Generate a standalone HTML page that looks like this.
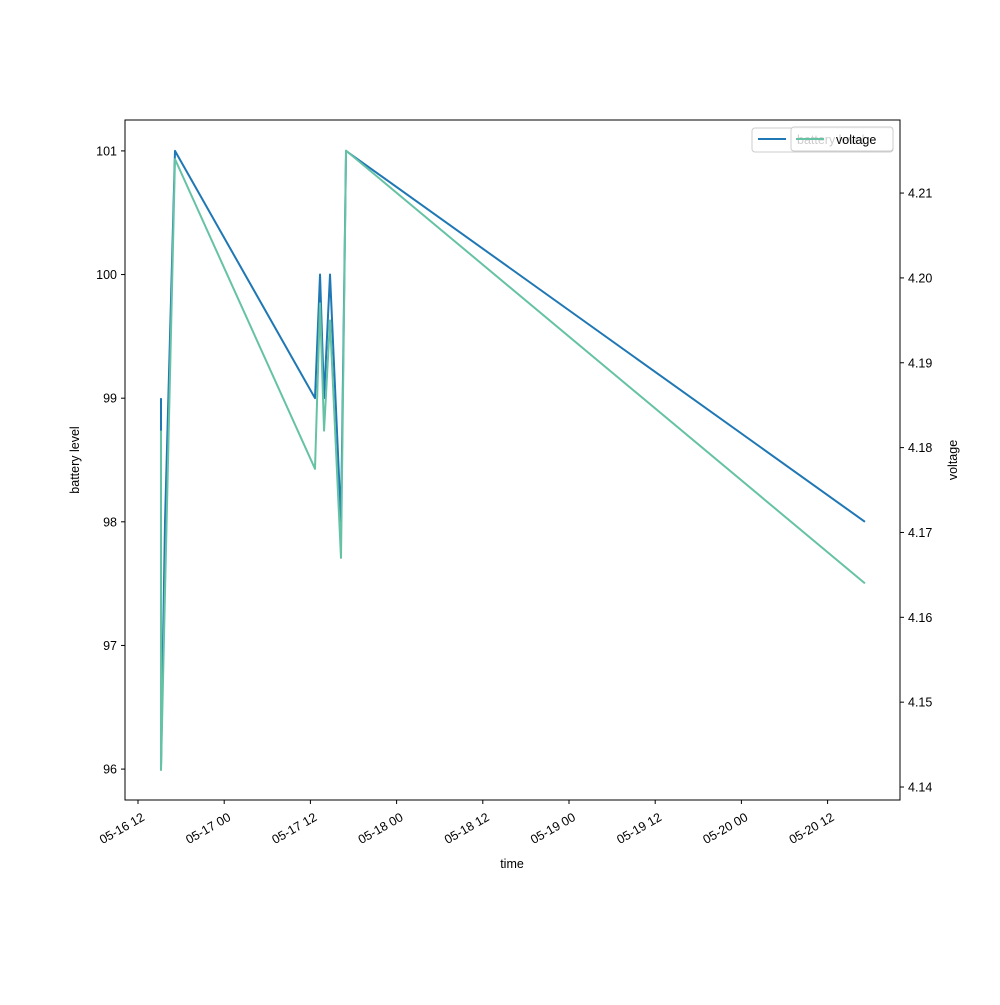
<!DOCTYPE html>
<html><head><meta charset="utf-8"><style>
body{margin:0;background:#fff;font-family:"Liberation Sans","DejaVu Sans",sans-serif}
</style></head><body>
<svg id="chart" width="1000" height="1000" xmlns="http://www.w3.org/2000/svg" font-family="Liberation Sans, DejaVu Sans, sans-serif" font-size="12.5">
<rect width="1000" height="1000" fill="#fff"/>
<g id="plot"></g>
<rect x="125" y="120" width="775" height="680" fill="none" stroke="#000" stroke-width="1"/>
<text x="512" y="868" text-anchor="middle">time</text>
<text transform="translate(79,460) rotate(-90)" text-anchor="middle">battery level</text>
<text transform="translate(957,460) rotate(-90)" text-anchor="middle">voltage</text>
<g>
<rect x="752" y="128" width="141" height="24" rx="3" fill="#fff" fill-opacity="0.8" stroke="#ccc"/>
<line x1="758" y1="139" x2="786" y2="139" stroke="#1f77b4" stroke-width="2"/>
<text x="797" y="144">battery level</text>
</g>
<g>
<rect x="791" y="127" width="102" height="24" rx="3" fill="#fff" fill-opacity="0.8" stroke="#ccc"/>
<line x1="796" y1="139" x2="824" y2="139" stroke="#66c2a5" stroke-width="2"/>
<text x="836" y="144">voltage</text>
</g>
</svg>
<script>
const hours = [3.2, 3.2, 3.76, 5.15, 24.64, 25.34, 25.9, 26.73, 28.26, 28.96, 101.2];
const battery = [99, 96, 98, 101, 99, 100, 99, 100, 98, 101, 98];
const voltage = [4.182, 4.142, 4.163, 4.214, 4.1775, 4.197, 4.182, 4.195, 4.167, 4.215, 4.164];
const xTickLabels = ["05-16 12","05-17 00","05-17 12","05-18 00","05-18 12","05-19 00","05-19 12","05-20 00","05-20 12"];
const leftTicks = [96, 97, 98, 99, 100, 101];
const rightTicks = [4.14, 4.15, 4.16, 4.17, 4.18, 4.19, 4.20, 4.21];

const NS = "http://www.w3.org/2000/svg";
const L=125,R=900,T=120,B=800;
const xMin=-1.81,xMax=106.08;
const lMin=95.75,lMax=101.25;
const rMin=4.13847,rMax=4.21861;
const X=h=>L+(h-xMin)/(xMax-xMin)*(R-L);
const YL=v=>B-(v-lMin)/(lMax-lMin)*(B-T);
const YR=v=>B-(v-rMin)/(rMax-rMin)*(B-T);
const g=document.getElementById('plot');
function mk(tag,attrs){const e=document.createElementNS(NS,tag);for(const k in attrs)e.setAttribute(k,attrs[k]);g.appendChild(e);return e;}

xTickLabels.forEach((lab,i)=>{
  const x=X(i*12);
  const t=mk('line',{x1:x,y1:B,x2:x,y2:B+4,stroke:'#000'});
  
  
  const tx=mk('text',{transform:`translate(${x+3},${B+12}) rotate(-30)`,'text-anchor':'end','dominant-baseline':'hanging'});
  tx.textContent=lab;
  
  
});
leftTicks.forEach(v=>{
  const y=YL(v);
  const t=mk('line',{x1:L-4,y1:y,x2:L,y2:y,stroke:'#000'});
  
  
  const tx=mk('text',{x:L-8,y:y+4.5,'text-anchor':'end'});
  tx.textContent=v;
  
  
});
rightTicks.forEach(v=>{
  const y=YR(v);
  const t=mk('line',{x1:R,y1:y,x2:R+4,y2:y,stroke:'#000'});
  
  
  const tx=mk('text',{x:R+8,y:y+4.5});
  tx.textContent=v.toFixed(2);
  
  
});
const bl=mk('polyline',{points:hours.map((h,i)=>X(h)+','+YL(battery[i])).join(' '),fill:'none',stroke:'#1f77b4','stroke-width':2,'stroke-linejoin':'round'});


const vl=mk('polyline',{points:hours.map((h,i)=>X(h)+','+YR(voltage[i])).join(' '),fill:'none',stroke:'#66c2a5','stroke-width':2,'stroke-linejoin':'round'});


</script>
</body></html>
